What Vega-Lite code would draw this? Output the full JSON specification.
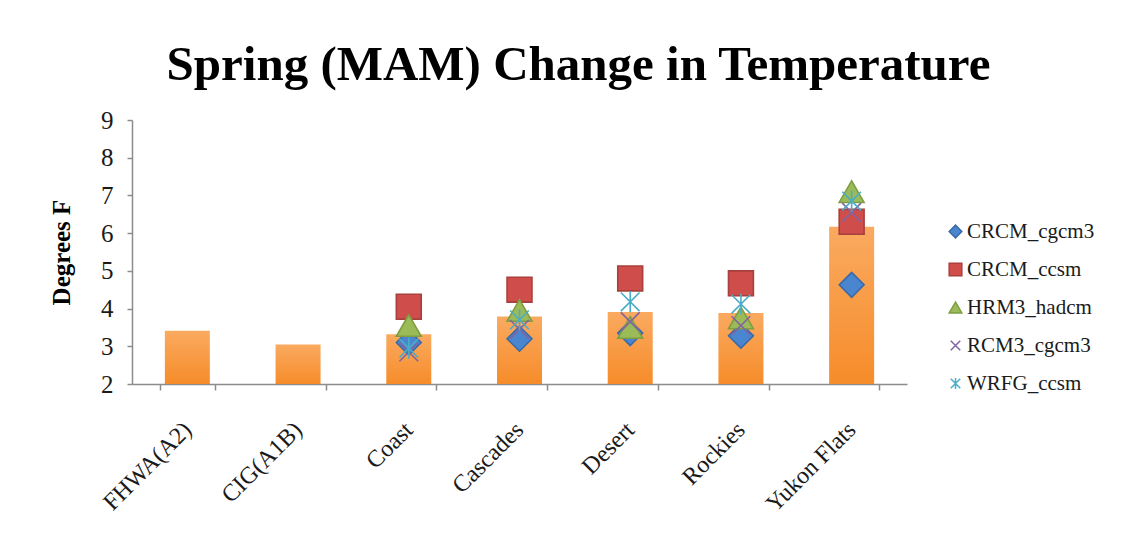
{
  "$schema": "https://vega.github.io/schema/vega-lite/v6.json",
  "width": 775,
  "height": 264,
  "autosize": {"type": "none"},
  "padding": {"left": 132, "top": 120, "right": 239, "bottom": 170},
  "background": "white",
  "title": {
    "text": "Spring (MAM) Change in Temperature",
    "font": "Liberation Serif",
    "fontSize": 49,
    "fontWeight": "bold",
    "color": "#000000",
    "anchor": "middle",
    "dx": 59,
    "offset": 18
  },
  "config": {
    "view": {"stroke": null},
    "axis": {"grid": false}
  },
  "datasets": {
    "bars": [
      {"region": "FHWA(A2)", "value": 3.41},
      {"region": "CIG(A1B)", "value": 3.05},
      {"region": "Coast", "value": 3.32},
      {"region": "Cascades", "value": 3.79},
      {"region": "Desert", "value": 3.91},
      {"region": "Rockies", "value": 3.88},
      {"region": "Yukon Flats", "value": 6.17}
    ],
    "markers": [
      {"region": "Coast", "model": "CRCM_cgcm3", "value": 3.1},
      {"region": "Coast", "model": "CRCM_ccsm", "value": 4.05},
      {"region": "Coast", "model": "HRM3_hadcm", "value": 3.55},
      {"region": "Coast", "model": "RCM3_cgcm3", "value": 2.85},
      {"region": "Coast", "model": "WRFG_ccsm", "value": 2.95},
      {"region": "Cascades", "model": "CRCM_cgcm3", "value": 3.2},
      {"region": "Cascades", "model": "CRCM_ccsm", "value": 4.5},
      {"region": "Cascades", "model": "HRM3_hadcm", "value": 3.95},
      {"region": "Cascades", "model": "RCM3_cgcm3", "value": 3.45},
      {"region": "Cascades", "model": "WRFG_ccsm", "value": 3.7},
      {"region": "Desert", "model": "CRCM_cgcm3", "value": 3.35},
      {"region": "Desert", "model": "CRCM_ccsm", "value": 4.8},
      {"region": "Desert", "model": "HRM3_hadcm", "value": 3.5},
      {"region": "Desert", "model": "RCM3_cgcm3", "value": 3.65},
      {"region": "Desert", "model": "WRFG_ccsm", "value": 4.18},
      {"region": "Rockies", "model": "CRCM_cgcm3", "value": 3.28},
      {"region": "Rockies", "model": "CRCM_ccsm", "value": 4.67},
      {"region": "Rockies", "model": "HRM3_hadcm", "value": 3.75},
      {"region": "Rockies", "model": "RCM3_cgcm3", "value": 3.55},
      {"region": "Rockies", "model": "WRFG_ccsm", "value": 4.12},
      {"region": "Yukon Flats", "model": "CRCM_cgcm3", "value": 4.63},
      {"region": "Yukon Flats", "model": "CRCM_ccsm", "value": 6.3},
      {"region": "Yukon Flats", "model": "HRM3_hadcm", "value": 7.1},
      {"region": "Yukon Flats", "model": "RCM3_cgcm3", "value": 6.55},
      {"region": "Yukon Flats", "model": "WRFG_ccsm", "value": 6.85}
    ]
  },
  "encoding": {
    "x": {
      "field": "region",
      "type": "nominal",
      "sort": null,
      "scale": {
        "domain": ["FHWA(A2)", "CIG(A1B)", "Coast", "Cascades", "Desert", "Rockies", "Yukon Flats"],
        "paddingInner": 0.5,
        "paddingOuter": 0.25
      },
      "axis": {
        "title": null,
        "domainColor": "#8C8C8C",
        "domainWidth": 1.5,
        "tickColor": "#8C8C8C",
        "tickWidth": 1.5,
        "tickSize": 6,
        "tickBand": "extent",
        "labelAngle": -45,
        "labelAlign": "right",
        "labelBaseline": "middle",
        "labelPadding": 36,
        "labelFont": "Liberation Serif",
        "labelFontSize": 24,
        "labelColor": "#1a1a1a"
      }
    },
    "y": {
      "field": "value",
      "type": "quantitative",
      "scale": {"domain": [2, 9], "zero": false, "nice": false},
      "axis": {
        "title": "Degrees F",
        "titleFont": "Liberation Serif",
        "titleFontSize": 25,
        "titleFontWeight": "bold",
        "titleColor": "#000000",
        "titlePadding": 26,
        "values": [2, 3, 4, 5, 6, 7, 8, 9],
        "tickCount": 12,
        "format": "d",
        "labelOverlap": false,
        "domainColor": "#8C8C8C",
        "domainWidth": 1.5,
        "tickColor": "#8C8C8C",
        "tickWidth": 1.5,
        "tickSize": 5,
        "labelPadding": 14,
        "labelFont": "Liberation Serif",
        "labelFontSize": 25,
        "labelColor": "#1a1a1a"
      }
    }
  },
  "layer": [
    {
      "data": {"name": "bars"},
      "mark": {
        "type": "bar",
        "width": 45,
        "color": {
          "gradient": "linear",
          "x1": 0, "y1": 0, "x2": 0, "y2": 1,
          "stops": [
            {"offset": 0, "color": "#FAAA60"},
            {"offset": 1, "color": "#F68C2A"}
          ]
        }
      },
      "encoding": {
        "y2": {"datum": 2}
      }
    },
    {
      "data": {"name": "markers"},
      "mark": {"type": "point", "filled": true, "size": 620, "strokeWidth": 1.6, "opacity": 1},
      "encoding": {
        "fill": {
          "field": "model",
          "type": "nominal",
          "scale": {
            "domain": ["CRCM_cgcm3", "CRCM_ccsm", "HRM3_hadcm", "RCM3_cgcm3", "WRFG_ccsm"],
            "range": ["#4A86CF", "#CF4D4A", "#9BBB59", "#8064A2", "#4BACC6"]
          },
          "legend": {
            "title": null,
            "orient": "none",
            "legendX": 813,
            "legendY": 101,
            "padding": 0,
            "labelFont": "Liberation Serif",
            "labelFontSize": 21,
            "labelColor": "#1a1a1a",
            "labelOffset": 1,
            "symbolSize": 160,
            "rowPadding": 16
          }
        },
        "stroke": {
          "field": "model",
          "type": "nominal",
          "scale": {
            "domain": ["CRCM_cgcm3", "CRCM_ccsm", "HRM3_hadcm", "RCM3_cgcm3", "WRFG_ccsm"],
            "range": ["#3A6AA8", "#A8403D", "#7E9E42", "#8064A2", "#4BACC6"]
          },
          "legend": {
            "title": null,
            "orient": "none",
            "legendX": 813,
            "legendY": 101,
            "padding": 0,
            "labelFont": "Liberation Serif",
            "labelFontSize": 21,
            "labelColor": "#1a1a1a",
            "labelOffset": 1,
            "symbolSize": 160,
            "rowPadding": 16
          }
        },
        "shape": {
          "field": "model",
          "type": "nominal",
          "scale": {
            "domain": ["CRCM_cgcm3", "CRCM_ccsm", "HRM3_hadcm", "RCM3_cgcm3", "WRFG_ccsm"],
            "range": [
              "diamond",
              "square",
              "triangle-up",
              "M-0.75,-0.75L0.75,0.75M-0.75,0.75L0.75,-0.75",
              "M-0.75,-0.75L0.75,0.75M-0.75,0.75L0.75,-0.75M0,-0.85L0,0.85"
            ]
          },
          "legend": {
            "title": null,
            "orient": "none",
            "legendX": 813,
            "legendY": 101,
            "padding": 0,
            "labelFont": "Liberation Serif",
            "labelFontSize": 21,
            "labelColor": "#1a1a1a",
            "labelOffset": 1,
            "symbolSize": 160,
            "rowPadding": 16
          }
        }
      }
    }
  ]
}
